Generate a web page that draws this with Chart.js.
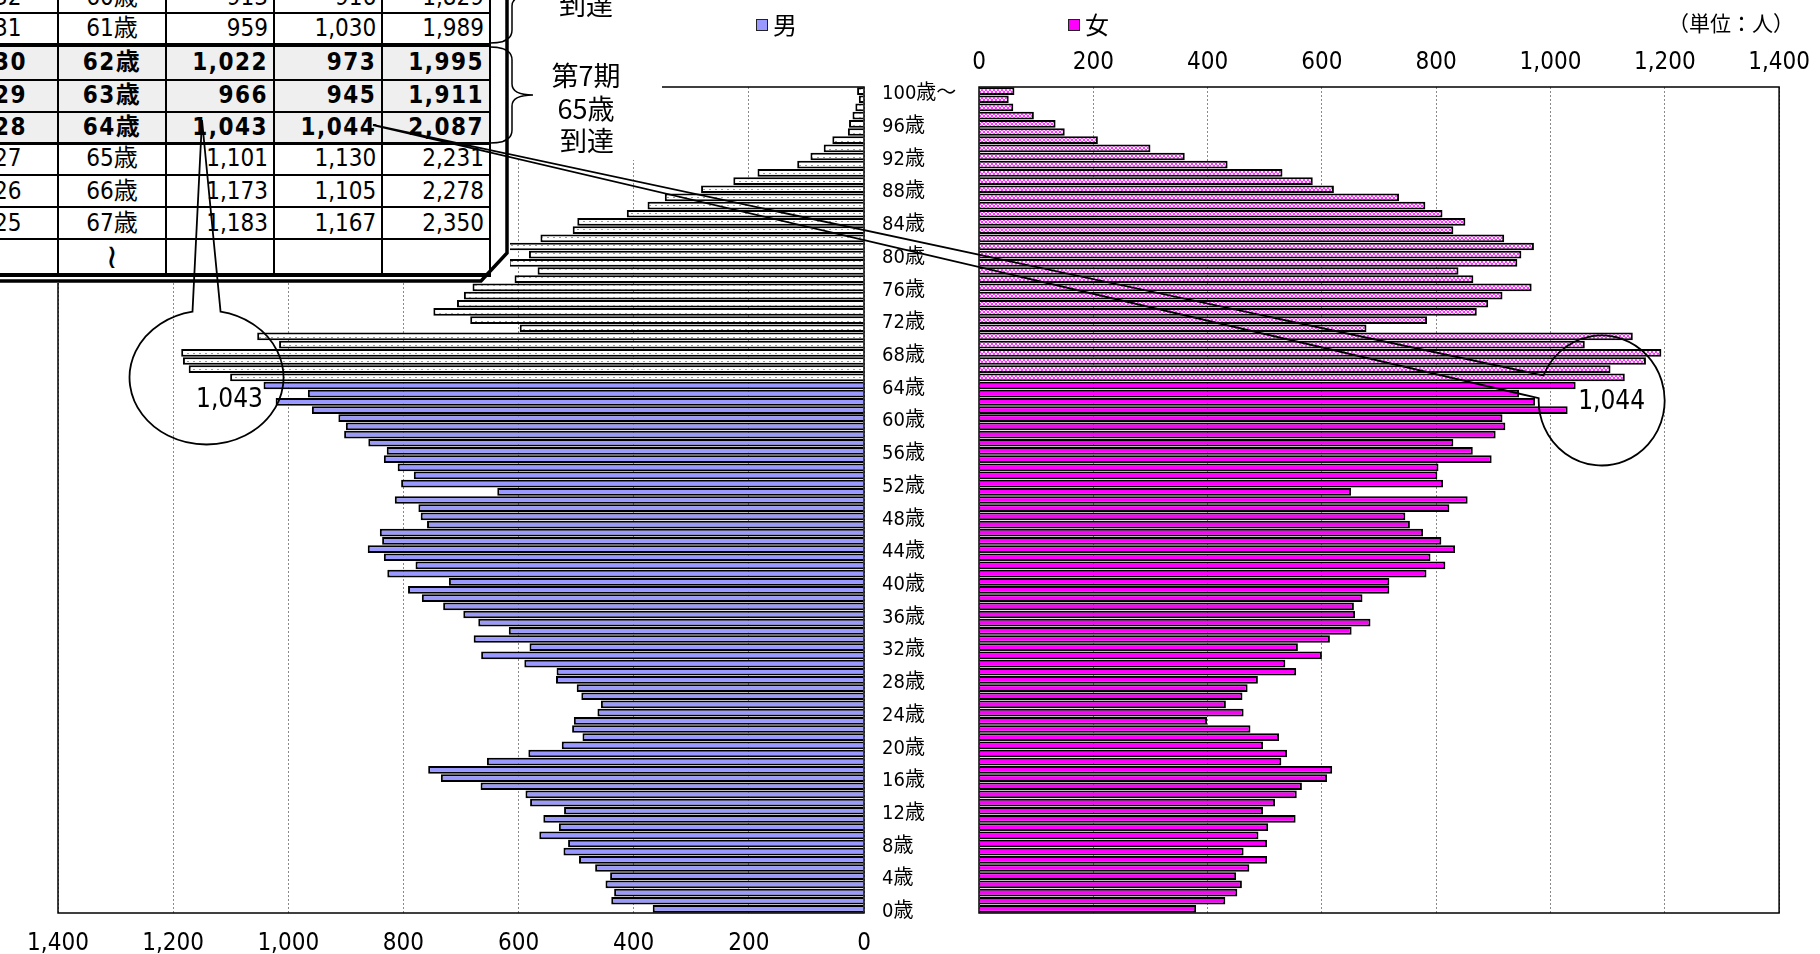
<!DOCTYPE html>
<html lang="ja">
<head>
<meta charset="utf-8">
<title>人口ピラミッド</title>
<script src="https://cdn.jsdelivr.net/npm/chart.js@4.4.1/dist/chart.umd.min.js"></script>
<style>
  html, body { margin: 0; padding: 0; background: #fff; }
  body {
    width: 1820px; height: 954px; position: relative; overflow: hidden;
    font-family: 'Liberation Sans Narrow', 'DejaVu Sans Condensed', 'Liberation Sans', 'Noto Sans CJK JP', sans-serif;
  }
  #cvMale { position: absolute; left: 0; top: 0; z-index: 1; }
  #cvFemale { position: absolute; left: 960px; top: 0; z-index: 1; }
  #tbl { position: absolute; left: -40px; top: -20px; width: 550px; height: 303px; background: #fff; z-index: 2; }
  #textBox { position: absolute; left: 508px; top: 0; width: 154px; height: 160px; background: #fff; z-index: 2; }
  .cell { position: absolute; font-size: 24px; color: #000; white-space: nowrap; box-sizing: border-box; }
  .bold { font-weight: bold; letter-spacing: 1.5px; }
  .hline, .vline { position: absolute; background: #000; }
  .legend { position: absolute; top: 6px; font-size: 24px; z-index: 2; font-family: 'Noto Sans CJK JP', sans-serif; }
  .swatch { display: inline-block; width: 10px; height: 10px; border: 1.5px solid #222; margin-right: 5px; vertical-align: 3px; }
  #unit { position: absolute; left: 1668px; top: 7px; font-size: 21px; z-index: 2; font-family: 'Noto Sans CJK JP', sans-serif; }
  #overlay { position: absolute; left: 0; top: 0; z-index: 3; pointer-events: none; }
</style>
</head>
<body>
<canvas id="cvMale" width="980" height="954"></canvas>
<canvas id="cvFemale" width="860" height="954"></canvas>
<div id="tbl"></div>
<div id="textBox"></div>
<div class="legend" style="left:756px"><span class="swatch" style="background:#9999ff"></span>男</div>
<div class="legend" style="left:1068px"><span class="swatch" style="background:#ff00ff"></span>女</div>
<div id="unit">（単位：人）</div>
<svg id="overlay" width="1820" height="954"></svg>
<script>
// Age categories (0歳 .. 100歳～)
const ageLabels = [
  '0歳','1歳','2歳','3歳','4歳','5歳','6歳','7歳','8歳','9歳',
  '10歳','11歳','12歳','13歳','14歳','15歳','16歳','17歳','18歳','19歳',
  '20歳','21歳','22歳','23歳','24歳','25歳','26歳','27歳','28歳','29歳',
  '30歳','31歳','32歳','33歳','34歳','35歳','36歳','37歳','38歳','39歳',
  '40歳','41歳','42歳','43歳','44歳','45歳','46歳','47歳','48歳','49歳',
  '50歳','51歳','52歳','53歳','54歳','55歳','56歳','57歳','58歳','59歳',
  '60歳','61歳','62歳','63歳','64歳','65歳','66歳','67歳','68歳','69歳',
  '70歳','71歳','72歳','73歳','74歳','75歳','76歳','77歳','78歳','79歳',
  '80歳','81歳','82歳','83歳','84歳','85歳','86歳','87歳','88歳','89歳',
  '90歳','91歳','92歳','93歳','94歳','95歳','96歳','97歳','98歳','99歳',
  '100歳～'
];

// Population by age (persons), index = age
const maleCounts = [
  367, 439, 434, 449, 441, 467, 495, 522, 514, 564,
  530, 557, 521, 580, 588, 666, 735, 757, 655, 583,
  525, 489, 507, 504, 463, 457, 491, 499, 535, 534,
  590, 665, 581, 678, 617, 670, 696, 731, 768, 792,
  721, 828, 779, 834, 862, 837, 841, 759, 770, 774,
  815, 637, 804, 782, 810, 834, 829, 861, 903, 900,
  913, 959, 1022, 966, 1043, 1101, 1173, 1183, 1186, 1016,
  1054, 598, 684, 748, 707, 695, 680, 607, 567, 617,
  582, 619, 562, 506, 498, 412, 376, 346, 283, 227,
  185, 116, 93, 70, 55, 28, 26, 20, 15, 9,
  12
];
const femaleCounts = [
  380, 431, 452, 460, 450, 473, 504, 463, 504, 489,
  506, 554, 497, 518, 556, 565, 609, 618, 529, 539,
  497, 525, 475, 399, 463, 432, 461, 470, 488, 555,
  536, 600, 558, 614, 652, 685, 658, 656, 671, 718,
  718, 783, 816, 790, 833, 809, 777, 754, 746, 823,
  855, 651, 812, 802, 804, 897, 864, 830, 904, 921,
  916, 1030, 973, 945, 1044, 1130, 1105, 1167, 1194, 1060,
  1144, 678, 784, 871, 891, 916, 967, 865, 839, 942,
  949, 971, 919, 830, 851, 811, 781, 735, 621, 584,
  531, 435, 360, 300, 208, 150, 134, 96, 60, 52,
  62
];

// Inset table (ages 60-67)
const tblEra = ['32', '31', '30', '29', '28', '27', '26', '25', ''];
const tblAge = ['60歳', '61歳', '62歳', '63歳', '64歳', '65歳', '66歳', '67歳', '≀'];
const tblMale = [913, 959, 1022, 966, 1043, 1101, 1173, 1183, null];
const tblFemale = [916, 1030, 973, 945, 1044, 1130, 1105, 1167, null];
const tblTotal = [1829, 1989, 1995, 1911, 2087, 2231, 2278, 2350, null];
const tblBoldRows = [2, 3, 4];

const xTicks = [0, 200, 400, 600, 800, 1000, 1200, 1400];
const elderAge = 65;

Chart.defaults.font.family = "'Liberation Sans Narrow', 'DejaVu Sans Condensed', 'Liberation Sans', 'Noto Sans CJK JP', sans-serif";
Chart.defaults.color = '#000';

function makePattern(w, h, bg, fg, pixels) {
    const c = document.createElement('canvas');
    c.width = w; c.height = h;
    const g = c.getContext('2d');
    g.fillStyle = bg;
    g.fillRect(0, 0, w, h);
    g.fillStyle = fg;
    pixels.forEach(p => g.fillRect(p[0], p[1], 1, 1));
    return g.createPattern(c, 'repeat');
}

const malePattern = makePattern(6, 4, '#ffffff', '#8f8fff', [[1, 1], [2, 1]]);
const femalePattern = makePattern(4, 4, '#ffe6ff', '#ff33ff', [[0, 0], [1, 1], [2, 2], [3, 3], [3, 0], [2, 1], [1, 2], [0, 3]]);

const maleFill = maleCounts.map((v, i) => i >= elderAge ? malePattern : '#9999ff');
const femaleFill = femaleCounts.map((v, i) => i >= elderAge ? femalePattern : '#ff00ff');

// draws the black frame around the plot area
const framePlugin = {
    id: 'frame',
    afterDraw(chart) {
        const { ctx, chartArea: a } = chart;
        ctx.save();
        ctx.strokeStyle = '#000';
        ctx.lineWidth = 1.5;
        ctx.strokeRect(a.left, a.top, a.right - a.left, a.bottom - a.top);
        ctx.restore();
    }
};

function xAxis(position, reverse, pad, height) {
    return {
        type: 'linear',
        position: position,
        reverse: reverse,
        min: 0,
        max: 1400,
        afterBuildTicks: s => { s.ticks = xTicks.map(v => ({ value: v })); },
        ticks: {
            padding: pad,
            maxRotation: 0,
            font: { size: 24 },
            callback: v => v.toLocaleString('en-US')
        },
        grid: { color: '#8a8a8a', lineWidth: 1, drawTicks: false },
        border: { display: false, dash: [2, 2] },
        afterFit: s => { s.height = height; }
    };
}

function barSet(label, data, fill) {
    return {
        label: label,
        data: data,
        backgroundColor: fill,
        borderColor: '#000',
        borderWidth: 2,
        barPercentage: 0.94,
        categoryPercentage: 1
    };
}

const chartL = new Chart(document.getElementById('cvMale'), {
    type: 'bar',
    data: { labels: ageLabels, datasets: [barSet('男', maleCounts, maleFill)] },
    options: {
        indexAxis: 'y',
        responsive: false,
        animation: false,
        devicePixelRatio: 1,
        layout: { padding: { left: 58, top: 87, right: 0, bottom: 0 } },
        plugins: { legend: { display: false }, tooltip: { enabled: false } },
        scales: {
            x: xAxis('bottom', true, 16, 41),
            y: {
                reverse: true,
                position: 'right',
                grid: { display: false, drawTicks: false },
                border: { display: false },
                ticks: {
                    autoSkip: false,
                    padding: 18,
                    labelOffset: 3,
                    font: { size: 20 },
                    callback: (v, i) => (i % 4 === 0 ? ageLabels[i] : '')
                },
                afterFit: s => { s.width = 116; }
            }
        }
    },
    plugins: [framePlugin]
});

const chartR = new Chart(document.getElementById('cvFemale'), {
    type: 'bar',
    data: { labels: ageLabels, datasets: [barSet('女', femaleCounts, femaleFill)] },
    options: {
        indexAxis: 'y',
        responsive: false,
        animation: false,
        devicePixelRatio: 1,
        layout: { padding: { left: 19, top: 40, right: 35.5, bottom: 41 } },
        plugins: { legend: { display: false }, tooltip: { enabled: false } },
        scales: {
            x: xAxis('top', false, 10, 47),
            y: { reverse: true, display: false }
        }
    },
    plugins: [framePlugin]
});

// ---- inset table ----
function buildTable() {
    const box = document.getElementById('tbl');
    const ox = 40, oy = 20; // table div offset
    const rowEdges = [-18.4, 13.3, 45, 80, 111.7, 143.3, 175, 207.3, 239.3, 275];
    const colEdges = [-40, 58.3, 165.7, 274, 382.3, 490];
    const thickRows = [2, 5, 9];
    const fmt = v => (v === null ? '' : v.toLocaleString('en-US'));

    for (let r = 0; r < tblAge.length; r++) {
        const top = rowEdges[r], h = rowEdges[r + 1] - rowEdges[r];
        const bold = tblBoldRows.includes(r);
        if (bold) {
            const bg = document.createElement('div');
            bg.style.cssText = `position:absolute;left:${colEdges[0] + ox}px;top:${top + oy}px;width:${colEdges[5] - colEdges[0]}px;height:${h}px;background:#efefef;`;
            box.appendChild(bg);
        }
        const texts = [tblEra[r], tblAge[r], fmt(tblMale[r]), fmt(tblFemale[r]), fmt(tblTotal[r])];
        texts.forEach((t, c) => {
            const d = document.createElement('div');
            d.className = 'cell' + (bold ? ' bold' : '');
            const l = colEdges[c], w = colEdges[c + 1] - colEdges[c];
            let align = 'right', pad = 'padding-right:6px;';
            if (c === 0) { align = 'left'; pad = 'padding-left:34px;'; }
            if (c === 1) { align = 'center'; pad = ''; }
            d.style.cssText += `left:${l + ox}px;top:${top + oy}px;width:${w}px;height:${h}px;line-height:${h}px;text-align:${align};${pad}`;
            if (c === 1 && r === 8) {
                d.style.fontFamily = "'DejaVu Sans', sans-serif";
                d.style.fontSize = '34px';
            }
            d.textContent = t;
            box.appendChild(d);
        });
    }
    for (let e = 1; e < rowEdges.length; e++) {
        const t = thickRows.includes(e) ? 3.5 : 2;
        const d = document.createElement('div');
        d.className = 'hline';
        d.style.cssText += `left:${colEdges[0] + ox}px;top:${rowEdges[e] - t / 2 + oy}px;width:${colEdges[5] - colEdges[0] + 1}px;height:${t}px;`;
        box.appendChild(d);
    }
    for (let c = 1; c < colEdges.length; c++) {
        const d = document.createElement('div');
        d.className = 'vline';
        d.style.cssText += `left:${colEdges[c] - 1 + ox}px;top:${rowEdges[0] + oy}px;width:2px;height:${rowEdges[9] - rowEdges[0]}px;`;
        box.appendChild(d);
    }
}

// ---- callouts, braces and labels on top ----
function buildOverlay() {
    const svg = document.getElementById('overlay');
    const NS = 'http://www.w3.org/2000/svg';
    const add = (tag, attrs, text) => {
        const el = document.createElementNS(NS, tag);
        for (const k in attrs) el.setAttribute(k, attrs[k]);
        if (text) el.textContent = text;
        svg.appendChild(el);
        return el;
    };
    const line = { fill: 'none', stroke: '#000', 'stroke-width': 1.8 };

    // 3D edge of the table box
    add('path', { d: 'M 507 -5 L 507 253 L 481 281 L -5 281', fill: 'none', stroke: '#000', 'stroke-width': 3.5 });

    // braces
    const brace = (y0, y1, tip) =>
        `M 490 ${y0} Q 512 ${y0} 512 ${y0 + 13} L 512 ${tip - 11} Q 512 ${tip} 533 ${tip} ` +
        `Q 512 ${tip} 512 ${tip + 11} L 512 ${y1 - 13} Q 512 ${y1} 490 ${y1}`;
    add('path', Object.assign({ d: brace(-51, 43, -5) }, line, { 'stroke-width': 1.5 }));
    add('path', Object.assign({ d: brace(47, 143, 95) }, line, { 'stroke-width': 1.5 }));

    const jp = { 'font-family': "'Noto Sans CJK JP', sans-serif", 'font-size': 27, 'text-anchor': 'middle', 'dominant-baseline': 'central' };
    add('text', Object.assign({ x: 586, y: 3 }, jp), '到達');
    add('text', Object.assign({ x: 586, y: 74 }, jp), '第7期');
    add('text', Object.assign({ x: 586, y: 107 }, jp), '65歳');
    add('text', Object.assign({ x: 587, y: 139 }, jp), '到達');

    // balloon callouts anchored on the 64-year-old bars
    const deg = Math.PI / 180;
    const balloon = (cx, cy, a, b, t1, t2, tip) => {
        const p1 = [cx + a * Math.cos(t1 * deg), cy + b * Math.sin(t1 * deg)];
        const p2 = [cx + a * Math.cos(t2 * deg), cy + b * Math.sin(t2 * deg)];
        return `M ${p1[0]} ${p1[1]} A ${a} ${b} 0 1 1 ${p2[0]} ${p2[1]} L ${tip[0]} ${tip[1]} Z`;
    };
    const idx = 64;
    const lx = chartL.scales.x.getPixelForValue(maleCounts[idx]);
    const ly = chartL.scales.y.getPixelForValue(idx);
    const rx = chartR.scales.x.getPixelForValue(femaleCounts[idx]) + 960;
    const ry = chartR.scales.y.getPixelForValue(idx);

    add('path', Object.assign({ d: balloon(lx - 57, ly - 8, 77, 67, -79.5, -100.5, [202, 120]) }, line));
    add('path', Object.assign({ d: balloon(rx + 26, ry + 15, 63, 65, 202.6, 182, [373, 125]) }, line));

    const num = { 'font-family': "'Liberation Sans Narrow', 'DejaVu Sans Condensed', sans-serif", 'font-size': 26, 'text-anchor': 'middle', 'dominant-baseline': 'central' };
    add('text', Object.assign({ x: lx - 34, y: ly + 12 }, num), maleCounts[idx].toLocaleString('en-US'));
    add('text', Object.assign({ x: rx + 36, y: ry + 14 }, num), femaleCounts[idx].toLocaleString('en-US'));
}

buildTable();
buildOverlay();
</script>
</body>
</html>
